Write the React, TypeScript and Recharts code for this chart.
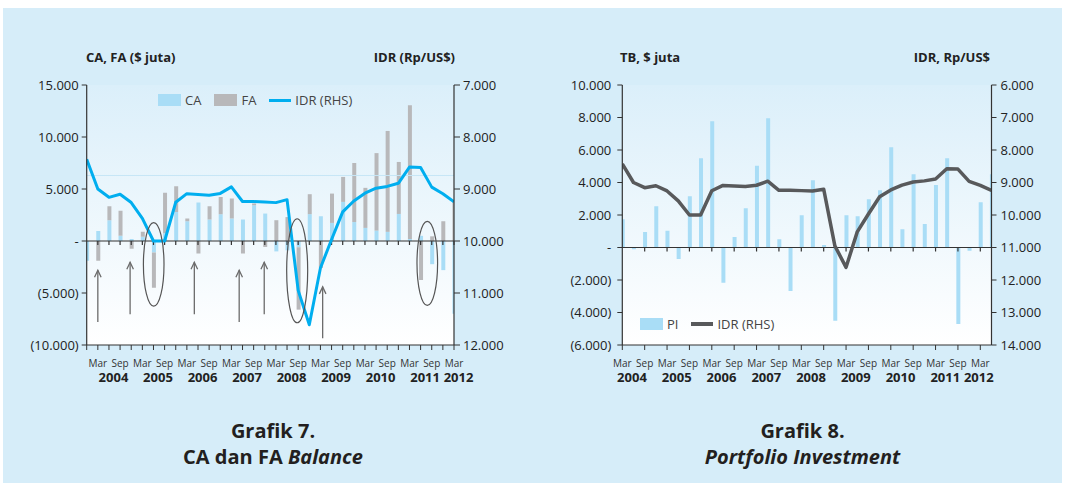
import React from 'react';
import {
  ComposedChart,
  Bar,
  Line,
  XAxis,
  YAxis,
  CartesianGrid,
  ReferenceLine,
  ReferenceDot,
} from 'recharts';

// quarters as they sit under each chart (chart 7 starts one quarter earlier)
const quarters7 = [
  'Dec 2003',
  'Mar 2004', 'Jun 2004', 'Sep 2004', 'Dec 2004',
  'Mar 2005', 'Jun 2005', 'Sep 2005', 'Dec 2005',
  'Mar 2006', 'Jun 2006', 'Sep 2006', 'Dec 2006',
  'Mar 2007', 'Jun 2007', 'Sep 2007', 'Dec 2007',
  'Mar 2008', 'Jun 2008', 'Sep 2008', 'Dec 2008',
  'Mar 2009', 'Jun 2009', 'Sep 2009', 'Dec 2009',
  'Mar 2010', 'Jun 2010', 'Sep 2010', 'Dec 2010',
  'Mar 2011', 'Jun 2011', 'Sep 2011', 'Dec 2011',
  'Mar 2012',
];
const quarters8 = [
  'Mar 2004', 'Jun 2004', 'Sep 2004', 'Dec 2004',
  'Mar 2005', 'Jun 2005', 'Sep 2005', 'Dec 2005',
  'Mar 2006', 'Jun 2006', 'Sep 2006', 'Dec 2006',
  'Mar 2007', 'Jun 2007', 'Sep 2007', 'Dec 2007',
  'Mar 2008', 'Jun 2008', 'Sep 2008', 'Dec 2008',
  'Mar 2009', 'Jun 2009', 'Sep 2009', 'Dec 2009',
  'Mar 2010', 'Jun 2010', 'Sep 2010', 'Dec 2010',
  'Mar 2011', 'Jun 2011', 'Sep 2011', 'Dec 2011',
  'Mar 2012', 'Jun 2012',
];

// $ juta
const caBalance = [
  -1900, 950, 2000, 500, 200, 400, -1100, 740, 2800, 1900, 3700, 2070, 2580, 2160, 2070, 3440, 2640,
  -1000, -900, -600, 2580, 2380, 1740, 3760, 1820, 1260, 1000, 880, 2600, 200, 500, -2230, -2800, -7000,
];
const faBalance = [
  0, -1900, 1350, 2400, -750, 500, -3400, 3900, 2470, 260, -1200, 1280, 1660, 1920, -1200, 160, -570,
  2000, 2300, -6000, 1920, -2600, 2820, 2400, 5680, 3850, 7450, 9700, 5000, 12850, -3750, 450, 1900, 3800,
];
const portfolio = [
  1740, -100, 960, 2540, 1030, -700, 3160, 5500, 7770, -2170, 640, 2420, 5030, 7960, 510, -2670, 1990,
  4140, 150, -4510, 1990, 1930, 2970, 3530, 6170, 1130, 4510, 1440, 3840, 5500, -4700, -200, 2790, 4510,
];
// Rp/US$
const idrRate = [
  8430, 9000, 9160, 9100, 9260, 9565, 10000, 10000, 9255, 9090, 9105, 9120, 9085, 8960, 9240, 9242, 9250,
  9262, 9205, 10950, 11610, 10520, 9970, 9440, 9230, 9080, 8985, 8950, 8890, 8578, 8588, 8964, 9090, 9246,
];

const leftTicks7 = [-10000, -5000, 0, 5000, 10000, 15000];
const rightTicks7 = [7000, 8000, 9000, 10000, 11000, 12000];
const leftTicks8 = [-6000, -4000, -2000, 0, 2000, 4000, 6000, 8000, 10000];
const rightTicks8 = [6000, 7000, 8000, 9000, 10000, 11000, 12000, 13000, 14000];

// hand drawn notes on grafik 7 (x in quarter index, y in $ juta)
const arrowNotes = [
  { x: 1, from: -7780, to: -2810 },
  { x: 3.9, from: -7040, to: -2040 },
  { x: 9.67, from: -7040, to: -2040 },
  { x: 13.7, from: -7780, to: -2810 },
  { x: 15.95, from: -7040, to: -2040 },
  { x: 21.2, from: -9350, to: -4410 },
];
const ellipseNotes = [
  { x: 6.02, y: -2250, rx: 10.3, ry: 41.8 },
  { x: 18.91, y: -2860, rx: 10.5, ry: 52 },
  { x: 30.6, y: -2150, rx: 10.3, ry: 42 },
];

const FONT = "'Open Sans', 'Noto Sans', sans-serif";
const PANEL = '#d6edf9';
const AXIS = '#333333';
const BAR_BLUE = '#a9ddf6';
const BAR_GREY = '#b8b8ba';
const LAST = quarters7.length - 1;

const data7 = quarters7.map((q, i) => ({ i, q, ca: caBalance[i], fa: faBalance[i], idr: idrRate[i] }));
const data8 = quarters8.map((q, i) => ({ i, q, pi: portfolio[i], idr: idrRate[i] }));

const dots = (v: number) => String(Math.abs(v)).replace(/\B(?=(\d{3})+(?!\d))/g, '.');
const signed = (v: number) => (v === 0 ? '-' : v < 0 ? `(${dots(v)})` : dots(v));

const isLabelled = (q: string) => q.startsWith('Mar') || q.startsWith('Sep');

function yearPositions(q: string[]) {
  const groups: Record<string, number[]> = {};
  q.forEach((s, i) => {
    if (!isLabelled(s)) return;
    const y = s.split(' ')[1];
    (groups[y] = groups[y] || []).push(i);
  });
  return Object.keys(groups).map((y) => {
    const idx = groups[y];
    return { year: y, pos: (idx[0] + idx[idx.length - 1]) / 2 };
  });
}

const years7 = yearPositions(quarters7);
const years8 = yearPositions(quarters8);
const allIdx = quarters7.map((_, i) => i);
const labelIdx8 = quarters8.map((q, i) => (isLabelled(q) ? i : -1)).filter((i) => i >= 0);

const monthTick = (labels: string[]) => (p: any) => {
  const q = labels[p.payload.value] || '';
  if (!isLabelled(q)) return <g />;
  return (
    <text x={p.x} y={p.y} dy="0.71em" textAnchor="middle" fontSize={10} fill="#333">
      {q.split(' ')[0]}
    </text>
  );
};

const yearTick = (items: { year: string; pos: number }[], dx: number) => (p: any) => {
  const it = items.find((t) => Math.abs(t.pos - p.payload.value) < 1e-6);
  if (!it) return <g />;
  return (
    <text x={p.x + dx} y={p.y} dy="0.71em" textAnchor="middle" fontSize={13} fontWeight={700} fill="#222">
      {it.year}
    </text>
  );
};

// zero line doubles as a category axis with small ticks hanging below
const zeroAxis = (tickIdx: number[], maxIdx: number) => (p: any) => {
  const { x1, x2, y1 } = p;
  const step = (x2 - x1) / maxIdx;
  return (
    <g stroke={AXIS} strokeWidth={1.2}>
      <line x1={x1} x2={x2} y1={y1} y2={y1} />
      {tickIdx.map((i) => (
        <line key={i} x1={x1 + step * i} x2={x1 + step * i} y1={y1} y2={y1 + 4} />
      ))}
    </g>
  );
};

const arrowShape = (p: any) => {
  const tip = Math.min(p.y1, p.y2);
  const base = Math.max(p.y1, p.y2);
  const x = p.x1;
  return (
    <g stroke="#6b6b6b" strokeWidth={1.3} fill="none">
      <line x1={x} x2={x} y1={base} y2={tip} />
      <polyline points={`${x - 3.3},${tip + 7} ${x},${tip} ${x + 3.3},${tip + 7}`} />
    </g>
  );
};

function PlotBg({ id }: { id: string }) {
  return (
    <linearGradient id={id} x1="0" y1="0" x2="0" y2="1">
      <stop offset="0" stopColor="#dbeffa" />
      <stop offset="1" stopColor="#ffffff" />
    </linearGradient>
  );
}

function Grafik7() {
  return (
    <ComposedChart
      width={530}
      height={400}
      data={data7}
      stackOffset="sign"
      margin={{ top: 85, right: 16, bottom: 15, left: 0 }}
    >
      <defs>
        <PlotBg id="plotBg7" />
      </defs>
      <CartesianGrid horizontal={false} vertical={false} fill="url(#plotBg7)" />
      <XAxis
        dataKey="i"
        type="number"
        domain={[0, LAST]}
        ticks={allIdx}
        interval={0}
        allowDataOverflow
        height={18}
        tickSize={5}
        tickMargin={10}
        tick={monthTick(quarters7)}
        axisLine={{ stroke: AXIS, strokeWidth: 1.2 }}
        tickLine={{ stroke: AXIS }}
      />
      <XAxis
        xAxisId="yr"
        dataKey="i"
        type="number"
        domain={[0, LAST]}
        ticks={years7.map((y) => y.pos)}
        interval={0}
        height={22}
        tickSize={0}
        tickMargin={10}
        axisLine={false}
        tickLine={false}
        tick={yearTick(years7, 4.5)}
      />
      <XAxis
        xAxisId="top"
        orientation="top"
        dataKey="i"
        type="number"
        domain={[0, LAST]}
        height={0}
        tick={false}
        tickLine={false}
        axisLine={{ stroke: AXIS, strokeWidth: 1.2 }}
      />
      <YAxis
        domain={[-10000, 15000]}
        ticks={leftTicks7}
        interval={0}
        width={86.7}
        tickSize={5}
        tickMargin={3}
        tickFormatter={signed}
        tick={{ fontSize: 13, fill: '#222' }}
        axisLine={{ stroke: AXIS, strokeWidth: 1.2 }}
        tickLine={{ stroke: AXIS }}
      />
      <YAxis
        yAxisId="r"
        orientation="right"
        reversed
        domain={[7000, 12000]}
        ticks={rightTicks7}
        interval={0}
        width={60}
        tickSize={6}
        tickMargin={3}
        tickFormatter={dots}
        tick={{ fontSize: 13, fill: '#222' }}
        axisLine={{ stroke: AXIS, strokeWidth: 1.2 }}
        tickLine={{ stroke: AXIS }}
      />
      <ReferenceLine y={6300} stroke="#c6e6f6" />
      <Bar dataKey="ca" stackId="bal" fill={BAR_BLUE} barSize={4} isAnimationActive={false} />
      <Bar dataKey="fa" stackId="bal" fill={BAR_GREY} barSize={4} isAnimationActive={false} />
      <ReferenceLine y={0} shape={zeroAxis(allIdx.slice(1), LAST)} />
      <Line
        yAxisId="r"
        dataKey="idr"
        type="linear"
        stroke="#00aeef"
        strokeWidth={3}
        strokeLinejoin="round"
        dot={false}
        activeDot={false}
        isAnimationActive={false}
      />
      {ellipseNotes.map((e, k) => (
        <ReferenceDot
          key={`e${k}`}
          x={e.x}
          y={e.y}
          r={1}
          shape={(p: any) => (
            <ellipse cx={p.cx} cy={p.cy} rx={e.rx} ry={e.ry} fill="none" stroke="#555" strokeWidth={1.2} />
          )}
        />
      ))}
      {arrowNotes.map((a, k) => (
        <ReferenceLine
          key={`a${k}`}
          segment={[
            { x: a.x, y: a.from },
            { x: a.x, y: a.to },
          ]}
          shape={arrowShape}
        />
      ))}
    </ComposedChart>
  );
}

function Grafik8() {
  return (
    <ComposedChart width={530} height={400} data={data8} margin={{ top: 85, right: 13.5, bottom: 15, left: 0 }}>
      <defs>
        <PlotBg id="plotBg8" />
      </defs>
      <CartesianGrid horizontal={false} vertical={false} fill="url(#plotBg8)" />
      <XAxis
        dataKey="i"
        type="number"
        domain={[0, LAST]}
        ticks={labelIdx8}
        interval={0}
        allowDataOverflow
        height={18}
        tickSize={5}
        tickMargin={10}
        tick={monthTick(quarters8)}
        axisLine={{ stroke: AXIS, strokeWidth: 1.2 }}
        tickLine={{ stroke: AXIS }}
      />
      <XAxis
        xAxisId="yr"
        dataKey="i"
        type="number"
        domain={[0, LAST]}
        ticks={years8.map((y) => y.pos)}
        interval={0}
        height={22}
        tickSize={0}
        tickMargin={10}
        axisLine={false}
        tickLine={false}
        tick={yearTick(years8, -1.5)}
      />
      <XAxis
        xAxisId="top"
        orientation="top"
        dataKey="i"
        type="number"
        domain={[0, LAST]}
        height={0}
        tick={false}
        tickLine={false}
        axisLine={{ stroke: AXIS, strokeWidth: 1.2 }}
      />
      <YAxis
        domain={[-6000, 10000]}
        ticks={leftTicks8}
        interval={0}
        width={87.3}
        tickSize={5}
        tickMargin={6}
        tickFormatter={signed}
        tick={{ fontSize: 13, fill: '#222' }}
        axisLine={{ stroke: AXIS, strokeWidth: 1.2 }}
        tickLine={{ stroke: AXIS }}
      />
      <YAxis
        yAxisId="r"
        orientation="right"
        reversed
        domain={[6000, 14000]}
        ticks={rightTicks8}
        interval={0}
        width={60}
        tickSize={5}
        tickMargin={4}
        tickFormatter={dots}
        tick={{ fontSize: 13, fill: '#222' }}
        axisLine={{ stroke: AXIS, strokeWidth: 1.2 }}
        tickLine={{ stroke: AXIS }}
      />
      <Bar dataKey="pi" fill={BAR_BLUE} barSize={4} isAnimationActive={false} />
      <ReferenceLine y={0} shape={zeroAxis(labelIdx8.slice(1), LAST)} />
      <Line
        yAxisId="r"
        dataKey="idr"
        type="linear"
        stroke="#58595b"
        strokeWidth={3.5}
        strokeLinejoin="round"
        dot={false}
        activeDot={false}
        isAnimationActive={false}
      />
    </ComposedChart>
  );
}

type LegendItem = { label: string; color: string; line?: boolean; thick?: number };

function LegendRow({ left, top, items }: { left: number; top: number; items: LegendItem[] }) {
  return (
    <div
      style={{
        position: 'absolute',
        left,
        top,
        height: 14,
        display: 'flex',
        alignItems: 'center',
        fontSize: 13,
        color: '#444',
        whiteSpace: 'nowrap',
      }}
    >
      {items.map((it) => (
        <div key={it.label} style={{ display: 'flex', alignItems: 'center', marginRight: 13 }}>
          <div
            style={{
              width: it.line ? 22 : 23,
              height: it.line ? it.thick || 3 : 12,
              background: it.color,
              marginRight: 4,
            }}
          />
          <span>{it.label}</span>
        </div>
      ))}
    </div>
  );
}

export default function App() {
  const head = { fontSize: 13, fontWeight: 700, fill: '#222' } as const;
  const title = { fontSize: 20, fontWeight: 700, fill: '#231f20', textAnchor: 'middle' } as const;
  return (
    <div
      style={{
        position: 'absolute',
        left: 0,
        top: 0,
        width: 1065,
        height: 483,
        background: '#fff',
        fontFamily: FONT,
        overflow: 'hidden',
      }}
    >
      <svg width={1065} height={483} style={{ position: 'absolute', left: 0, top: 0 }}>
        <rect x={3} y={8} width={1059} height={475} fill={PANEL} />
        <text x={86} y={61.5} {...head}>CA, FA ($ juta)</text>
        <text x={455} y={61.5} {...head} textAnchor="end">IDR (Rp/US$)</text>
        <text x={620} y={61.5} {...head}>TB, $ juta</text>
        <text x={990} y={61.5} {...head} textAnchor="end">IDR, Rp/US$</text>
        <text x={273} y={438} {...title}>Grafik 7.</text>
        <text x={273} y={464} {...title}>
          CA dan FA <tspan fontStyle="italic">Balance</tspan>
        </text>
        <text x={802.5} y={438} {...title}>Grafik 8.</text>
        <text x={802.5} y={464} {...title} fontStyle="italic">Portfolio Investment</text>
      </svg>
      <div style={{ position: 'absolute', left: 0, top: 0 }}>
        <Grafik7 />
      </div>
      <div style={{ position: 'absolute', left: 535, top: 0 }}>
        <Grafik8 />
      </div>
      <LegendRow
        left={158}
        top={93}
        items={[
          { label: 'CA', color: BAR_BLUE },
          { label: 'FA', color: BAR_GREY },
          { label: 'IDR (RHS)', color: '#00aeef', line: true, thick: 3 },
        ]}
      />
      <LegendRow
        left={640}
        top={317}
        items={[
          { label: 'PI', color: BAR_BLUE },
          { label: 'IDR (RHS)', color: '#58595b', line: true, thick: 3.5 },
        ]}
      />
    </div>
  );
}
